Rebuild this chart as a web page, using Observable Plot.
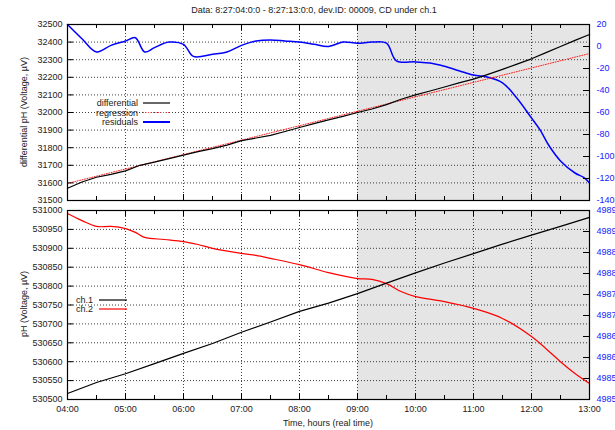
<!DOCTYPE html>
<html><head><meta charset="utf-8">
<script src="https://cdn.jsdelivr.net/npm/d3@7"></script>
<script src="https://cdn.jsdelivr.net/npm/@observablehq/plot@0.6"></script>
<style>
html,body{margin:0;padding:0;overflow:hidden;background:#fff;width:615px;height:430px}
#title{height:18px;font:9px "Liberation Sans",Arial,sans-serif;color:#222;position:relative}
#title span{position:absolute;left:314px;top:5px;transform:translateX(-50%);white-space:nowrap}
svg{display:block}
</style></head><body>
<div id="title"><span>Data: 8:27:04:0:0 - 8:27:13:0:0, dev.ID: 00009, CD under ch.1</span></div>
<div id="top"></div><div id="bottom"></div>
<script>
// ---------- data ----------
const hourTicks = [4,5,6,7,8,9,10,11,12,13];
const halfHourTicks = [4.5,5.5,6.5,7.5,8.5,9.5,10.5,11.5,12.5];
const shadeRange = [9, 13];

const diffDomain = [31500, 32500];
const diffTicks = [31500,31600,31700,31800,31900,32000,32100,32200,32300,32400,32500];
const resDomain = [-140, 20];
const resTicks = [-140,-120,-100,-80,-60,-40,-20,0,20];

const diffTimes = [4,4.25,4.5,4.75,5,5.25,5.5,5.75,6,6.25,6.5,6.75,7,7.25,7.5,7.75,8,8.25,8.5,8.75,9,9.25,9.5,9.75,10,10.25,10.5,10.75,11,11.25,11.5,11.75,12,12.25,12.5,12.75,13];
const diffValues = [31570,31605,31632,31648,31668,31700,31718,31738,31758,31778,31795,31815,31840,31855,31870,31892,31915,31937,31958,31978,32000,32020,32045,32075,32100,32122,32145,32168,32190,32217,32245,32275,32305,32340,32375,32410,32443];

const regTimes = [4, 13];
const regValues = [31597, 32335];

const resTimes = [4,4.25,4.5,4.75,5,5.17,5.33,5.5,5.75,6,6.17,6.5,6.75,7,7.25,7.5,7.75,8,8.25,8.5,8.75,9,9.25,9.5,9.67,10,10.25,10.5,10.75,11,11.25,11.5,11.75,12,12.15,12.3,12.5,12.75,12.9,13];
const resValues = [20,7,-5,1,5,8,-5,-1,4,2,-9,-7,-5,1,5,6,5,4,2,0,4,3,4,3,-13,-14,-15,-18,-22,-26,-28,-33,-47,-65,-76,-90,-104,-115,-119,-124];

const phDomain = [530500, 531000];
const phTicks = [530500,530550,530600,530650,530700,530750,530800,530850,530900,530950,531000];
const ch2Domain = [498500, 498950];
const ch2Ticks = [498500,498550,498600,498650,498700,498750,498800,498850,498900,498950];

const ch1Times = [4,4.5,5,5.5,6,6.5,7,7.5,8,8.5,9,9.5,10,10.5,11,11.5,12,12.5,13];
const ch1Values = [530516,530545,530568,530595,530622,530648,530678,530705,530733,530755,530780,530808,530835,530861,530886,530911,530935,530958,530982];

const ch2Times = [4,4.25,4.5,4.75,5,5.17,5.33,5.67,6,6.25,6.5,7,7.25,7.5,8,8.5,9,9.25,9.5,9.75,10,10.5,11,11.5,12,12.25,12.5,12.75,13];
const ch2Values = [498943,498926,498912,498912,498907,498898,498886,498881,498876,498869,498860,498848,498843,498836,498821,498802,498788,498786,498776,498757,498745,498733,498717,498693,498650,498621,498590,498562,498538];

const topLegend = ["differential","regression","residuals"];
const bottomLegend = ["ch.1","ch.2"];
const titles = {
  yTop: "differential pH (Voltage, µV)",
  yBottom: "pH (Voltage, µV)",
  x: "Time, hours (real time)"
};

// ---------- helpers ----------
const W = 615, ML = 67, MR = 26, PW = W - ML - MR;
const font = '"Liberation Sans", Arial, sans-serif';
const fmtHour = h => String(h).padStart(2, "0") + ":00";
const lin = (d0, d1) => v => d1[0] + (v - d0[0]) * (d1[1] - d1[0]) / (d0[1] - d0[0]);
const r2l = lin(resDomain, diffDomain), l2r = lin(diffDomain, resDomain);
const c2l = lin(ch2Domain, phDomain), l2c = lin(phDomain, ch2Domain);
const zip = (xs, ys) => xs.map((x, i) => ({x, y: ys[i]}));
const shade = [{x1: shadeRange[0], x2: shadeRange[1]}];
const gridStyle = {stroke: "#000", strokeOpacity: 0.75, strokeDasharray: "1,2", strokeWidth: 1};
const TK = 6;

function frameMarks(PH, leftTicks, rightTicksL) {
  return [
    Plot.tickY(leftTicks, {insetRight: PW - TK, stroke: "#000"}),
    Plot.tickY(rightTicksL, {insetLeft: PW - TK, stroke: "#000"}),
    Plot.tickX(hourTicks, {insetBottom: PH - TK, stroke: "#000"}),
    Plot.tickX(hourTicks, {insetTop: PH - TK, stroke: "#000"}),
    Plot.tickX(halfHourTicks, {insetBottom: PH - 4, stroke: "#000"}),
    Plot.tickX(halfHourTicks, {insetTop: PH - 4, stroke: "#000"}),
    Plot.frame({stroke: "#000", strokeWidth: 1.2})
  ];
}

// ---------- top panel ----------
const topH = 187, topMT = 6, topMB = 5, topPH = topH - topMT - topMB;
const topPlot = Plot.plot({
  width: W, height: topH, marginLeft: ML, marginRight: MR, marginTop: topMT, marginBottom: topMB,
  style: {fontFamily: font, fontSize: "9px", color: "#222", background: "transparent"},
  x: {domain: [4, 13], axis: null},
  y: {domain: diffDomain},
  marks: [
    Plot.rect(shade, {x1: "x1", x2: "x2", fill: "#e5e5e5"}),
    Plot.gridX(hourTicks, gridStyle),
    Plot.gridY(diffTicks, gridStyle),
    Plot.line(zip(resTimes, resValues.map(r2l)), {x: "x", y: "y", stroke: "#0000ff", strokeWidth: 1.5, curve: "catmull-rom"}),
    Plot.line(zip(regTimes, regValues), {x: "x", y: "y", stroke: "#ff2020", strokeWidth: 1, strokeDasharray: "1,1.5"}),
    Plot.line(zip(diffTimes, diffValues), {x: "x", y: "y", stroke: "#000", strokeWidth: 1.2}),
    ...frameMarks(topPH, diffTicks, resTicks.map(r2l)),
    Plot.axisY(diffTicks, {anchor: "left", tickSize: 0, tickPadding: 5, label: null, fill: "#222", tickFormat: d => String(d)}),
    Plot.axisY(resTicks.map(r2l), {anchor: "right", tickSize: 0, tickPadding: 7, label: null,
      tickFormat: d => String(Math.round(l2r(d))), fill: "#2020ff"})
  ]
});
document.getElementById("top").appendChild(topPlot);

// ---------- bottom panel ----------
const botH = 225, botMT = 5, botMB = 31, botPH = botH - botMT - botMB;
const botPlot = Plot.plot({
  width: W, height: botH, marginLeft: ML, marginRight: MR, marginTop: botMT, marginBottom: botMB,
  style: {fontFamily: font, fontSize: "9px", color: "#222", background: "transparent", overflow: "visible"},
  x: {domain: [4, 13]},
  y: {domain: phDomain},
  marks: [
    Plot.rect(shade, {x1: "x1", x2: "x2", fill: "#e5e5e5"}),
    Plot.gridX(hourTicks, gridStyle),
    Plot.gridY(phTicks, gridStyle),
    Plot.line(zip(ch2Times, ch2Values.map(c2l)), {x: "x", y: "y", stroke: "#ff0000", strokeWidth: 1.2, curve: "catmull-rom"}),
    Plot.line(zip(ch1Times, ch1Values), {x: "x", y: "y", stroke: "#000", strokeWidth: 1.2}),
    ...frameMarks(botPH, phTicks, ch2Ticks.map(c2l)),
    Plot.axisX(hourTicks, {anchor: "bottom", tickSize: 0, tickPadding: 6, tickFormat: fmtHour, label: null, fill: "#222"}),
    Plot.axisY(phTicks, {anchor: "left", tickSize: 0, tickPadding: 5, label: null, fill: "#222", tickFormat: d => String(d)}),
    Plot.axisY(ch2Ticks.map(c2l), {anchor: "right", tickSize: 0, tickPadding: 7, label: null,
      tickFormat: d => String(Math.round(l2c(d))), fill: "#2020ff"})
  ]
});
document.getElementById("bottom").appendChild(botPlot);

// ---------- axis titles & legends ----------
function addText(svg, txt, x, y, opts = {}) {
  const t = d3.select(svg).append("text").text(txt)
    .attr("x", x).attr("y", y)
    .attr("font-family", font).attr("font-size", 9).attr("fill", "#222")
    .attr("text-anchor", opts.anchor || "middle").attr("dominant-baseline", "central");
  if (opts.rotate) t.attr("transform", `rotate(-90 ${x} ${y})`);
  return t;
}
addText(topPlot, titles.yTop, 24, 94, {rotate: true});
addText(botPlot, titles.yBottom, 24, 99, {rotate: true});
addText(botPlot, titles.x, (ML + W - MR) / 2, 218);

const topLegendStyles = [
  {stroke: "#000", width: 1.2, dash: null},
  {stroke: "#ff4040", width: 1, dash: "1,1.5"},
  {stroke: "#0000ff", width: 2, dash: null}
];
topLegend.forEach((name, i) => {
  const y = 85 + i * 9.5;
  addText(topPlot, name, 138, y, {anchor: "end"});
  const s = topLegendStyles[i];
  d3.select(topPlot).append("line").attr("x1", 143).attr("x2", 170).attr("y1", y).attr("y2", y)
    .attr("stroke", s.stroke).attr("stroke-width", s.width).attr("stroke-dasharray", s.dash);
});
const botLegendColors = ["#000", "#ff0000"];
bottomLegend.forEach((name, i) => {
  const y = 95 + i * 9;
  addText(botPlot, name, 93, y, {anchor: "end"});
  d3.select(botPlot).append("line").attr("x1", 99).attr("x2", 127).attr("y1", y).attr("y2", y)
    .attr("stroke", botLegendColors[i]).attr("stroke-width", 1.2);
});
</script></body></html>
